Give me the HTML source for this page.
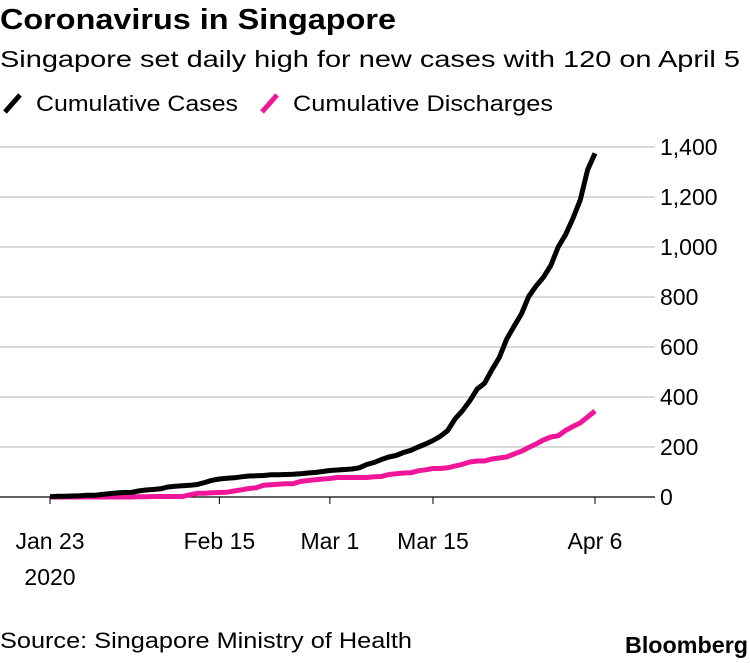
<!DOCTYPE html>
<html><head><meta charset="utf-8"><style>
body{margin:0;background:#fff;font-family:"Liberation Sans",sans-serif;}
svg text{font-family:"Liberation Sans",sans-serif;}
</style></head><body>
<svg width="750" height="658" xmlns="http://www.w3.org/2000/svg">
<text x="0" y="29" font-size="29" font-weight="bold" fill="#000" textLength="396" lengthAdjust="spacingAndGlyphs">Coronavirus in Singapore</text>
<text x="0" y="67" font-size="23" fill="#000" textLength="740" lengthAdjust="spacingAndGlyphs">Singapore set daily high for new cases with 120 on April 5</text>
<g>
<line x1="5" y1="112" x2="20" y2="95" stroke="#000" stroke-width="5"/>
<text x="36" y="111" font-size="22" textLength="202" lengthAdjust="spacingAndGlyphs">Cumulative Cases</text>
<line x1="262" y1="112" x2="277" y2="95" stroke="#f0169a" stroke-width="5"/>
<text x="293" y="111" font-size="22" textLength="260" lengthAdjust="spacingAndGlyphs">Cumulative Discharges</text>
</g>
<g id="grid"></g>
<g id="ylab"></g>
<g id="xlab"></g>
<g id="series"></g>
<text x="0" y="648" font-size="22" textLength="412" lengthAdjust="spacingAndGlyphs">Source: Singapore Ministry of Health</text>
<text x="748" y="653" font-size="23" font-weight="bold" text-anchor="end" textLength="123" lengthAdjust="spacingAndGlyphs">Bloomberg</text>
</svg>
<script>
const yTicks=[0,200,400,600,800,1000,1200,1400];
const yTickLabels=["0","200","400","600","800","1,000","1,200","1,400"];
const xTickDays=[0,23,38,52,74];
const xTickLabels=["Jan 23","Feb 15","Mar 1","Mar 15","Apr 6"];
const cases=[1,3,3,4,5,7,7,10,13,16,18,18,24,28,30,33,40,43,45,47,50,58,67,72,75,77,81,84,85,86,89,89,90,91,93,96,98,102,106,108,110,112,117,130,138,150,160,166,178,187,200,212,226,243,266,313,345,385,432,455,509,558,631,683,732,802,844,879,926,1000,1049,1114,1189,1309,1375];
const discharges=[0,0,0,0,0,0,0,0,0,0,0,0,1,1,2,2,2,2,2,9,15,15,17,18,19,24,29,34,37,47,49,51,53,53,62,66,69,72,74,78,78,78,78,78,81,82,90,93,96,97,105,109,114,114,117,124,131,140,144,144,152,156,160,172,183,198,212,228,240,245,266,282,297,320,344];
const NS="http://www.w3.org/2000/svg";
const xS=d=>50+d*(545/74);
const yS=v=>497-v*(350/1400);
const grid=document.getElementById('grid'),ylab=document.getElementById('ylab'),xlab=document.getElementById('xlab'),ser=document.getElementById('series');
yTicks.forEach((t,i)=>{
 const l=document.createElementNS(NS,'line');
 l.setAttribute('x1',0);l.setAttribute('x2',655);l.setAttribute('y1',yS(t));l.setAttribute('y2',yS(t));
 l.setAttribute('stroke',t===0?'#000':'#d9d9d9');l.setAttribute('stroke-width',t===0?1.2:2);
 
 
 grid.appendChild(l);
 const tx=document.createElementNS(NS,'text');
 tx.setAttribute('x',660);tx.setAttribute('y',yS(t)+8);tx.setAttribute('font-size',23);tx.textContent=yTickLabels[i];
 
 
 ylab.appendChild(tx);
});
xTickDays.forEach((d,i)=>{
 const l=document.createElementNS(NS,'line');
 l.setAttribute('x1',xS(d));l.setAttribute('x2',xS(d));l.setAttribute('y1',497);l.setAttribute('y2',504);l.setAttribute('stroke','#000');
 
 
 xlab.appendChild(l);
 const tx=document.createElementNS(NS,'text');
 tx.setAttribute('x',xS(d));tx.setAttribute('y',549);tx.setAttribute('font-size',23);tx.setAttribute('text-anchor','middle');tx.textContent=xTickLabels[i];
 
 
 xlab.appendChild(tx);
});
const yr=document.createElementNS(NS,'text');
yr.setAttribute('x',xS(0));yr.setAttribute('y',585);yr.setAttribute('font-size',23);yr.setAttribute('text-anchor','middle');yr.textContent='2020';


xlab.appendChild(yr);
function line(arr,color,name){
 const p=document.createElementNS(NS,'path');
 p.setAttribute('d',arr.map((v,i)=>(i?'L':'M')+xS(i).toFixed(1)+','+yS(v).toFixed(1)).join(''));
 p.setAttribute('fill','none');p.setAttribute('stroke',color);p.setAttribute('stroke-width',5);p.setAttribute('stroke-linejoin','round');
 
 
 ser.appendChild(p);
}
line(discharges,'#f0169a','discharges-line');
line(cases,'#000','cases-line');
</script>
</body></html>
